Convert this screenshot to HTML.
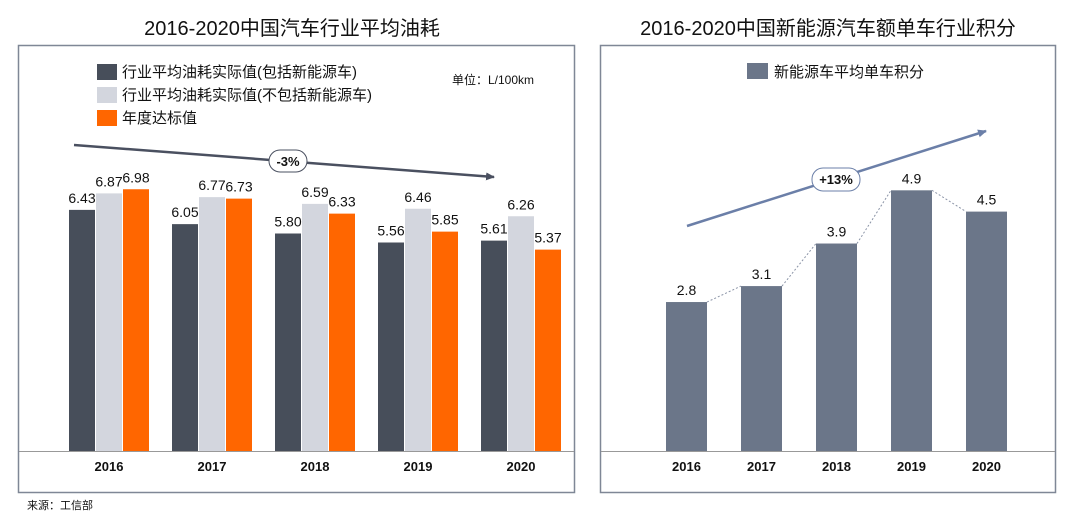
<!DOCTYPE html>
<html><head><meta charset="utf-8"><style>
body{margin:0;background:#fff;}
svg text{font-family:"Liberation Sans","Noto Sans CJK SC",sans-serif;fill:#111;}
</style></head><body>
<svg width="1080" height="525" viewBox="0 0 1080 525" xmlns="http://www.w3.org/2000/svg">
<defs><marker id="ah" markerUnits="userSpaceOnUse" markerWidth="10" markerHeight="10" refX="8" refY="4" orient="auto"><path d="M0,0 L9,4 L0,8 Z" fill="#4a5060"/></marker>
<marker id="ah2" markerUnits="userSpaceOnUse" markerWidth="10" markerHeight="10" refX="8" refY="4" orient="auto"><path d="M0,0 L9,4 L0,8 Z" fill="#6b7fa8"/></marker></defs>
<text x="292" y="35" font-size="20" text-anchor="middle">2016-2020中国汽车行业平均油耗</text>
<text x="828" y="35" font-size="20" text-anchor="middle">2016-2020中国新能源汽车额单车行业积分</text>
<rect x="18.5" y="45.5" width="556" height="447" fill="none" stroke="#7f8796" stroke-width="1.5"/>
<rect x="600.5" y="45.5" width="455" height="447" fill="none" stroke="#7f8796" stroke-width="1.5"/>
<g>
<rect x="97" y="64" width="20" height="16" fill="#474e5a"/>
<text x="122" y="77" font-size="15">行业平均油耗实际值(包括新能源车)</text>
<rect x="97" y="87" width="20" height="16" fill="#d3d6de"/>
<text x="122" y="100" font-size="15">行业平均油耗实际值(不包括新能源车)</text>
<rect x="97" y="110" width="20" height="16" fill="#ff6600"/>
<text x="122" y="123" font-size="15">年度达标值</text>
</g>
<text x="452" y="84" font-size="12">单位：L/100km</text>
<line x1="74" y1="145" x2="494" y2="177" stroke="#4a5060" stroke-width="2.5" marker-end="url(#ah)"/>
<rect x="269" y="150" width="38" height="22" rx="11" fill="#fff" stroke="#4a5060"/>
<text x="288" y="166" font-size="13" font-weight="bold" text-anchor="middle">-3%</text>
<g id="left"></g>
<line x1="19" y1="451.5" x2="574" y2="451.5" stroke="#999"/>
<g>
<rect x="747" y="63" width="21" height="16" fill="#6b7689"/>
<text x="774" y="77" font-size="15">新能源车平均单车积分</text>
</g>
<g id="right"></g>
<line x1="687" y1="226" x2="986" y2="131" stroke="#6b7fa8" stroke-width="2.5" marker-end="url(#ah2)"/>
<rect x="812" y="168" width="48" height="23" rx="11" fill="#fff" stroke="#6b7fa8"/>
<text x="836" y="184" font-size="13" font-weight="bold" text-anchor="middle">+13%</text>
<line x1="601" y1="451.5" x2="1055" y2="451.5" stroke="#999"/>
<text x="27" y="509" font-size="11">来源：工信部</text>
</svg>
<script>
const years=["2016","2017","2018","2019","2020"];
const inclValues=[6.43,6.05,5.80,5.56,5.61];
const exclValues=[6.87,6.77,6.59,6.46,6.26];
const targetValues=[6.98,6.73,6.33,5.85,5.37];
const creditValues=[2.8,3.1,3.9,4.9,4.5];
const NS="http://www.w3.org/2000/svg";
const base=451;
function mk(tag,attrs,parent,txt){const e=document.createElementNS(NS,tag);for(const k in attrs)e.setAttribute(k,attrs[k]);if(txt!=null)e.textContent=txt;parent.appendChild(e);return e;}
const yL=v=>base-v*37.5, xL=i=>69+i*103;
const gL=document.getElementById('left');
const series=[[inclValues,"#474e5a","incl"],[exclValues,"#d3d6de","excl"],[targetValues,"#ff6600","target"]];
years.forEach((yr,i)=>{
  series.forEach((s,j)=>{
    const v=s[0][i],x=xL(i)+j*27;
    const r=mk('rect',{x:x,y:yL(v),width:26,height:base-yL(v),fill:s[1]},gL);
    
    
    const t=mk('text',{x:x+13,y:yL(v)-7,'font-size':14,'text-anchor':'middle'},gL,v.toFixed(2));
    
    
  });
  const t=mk('text',{x:xL(i)+40,y:471,'font-size':13,'font-weight':'bold','text-anchor':'middle'},gL,yr);
  
  
});
const yR=v=>base-v*53.2, xR=i=>666+i*75, bw=41;
const gR=document.getElementById('right');
years.forEach((yr,i)=>{
  const v=creditValues[i];
  const r=mk('rect',{x:xR(i),y:yR(v),width:bw,height:base-yR(v),fill:"#6b7689"},gR);
  
  
  const t=mk('text',{x:xR(i)+bw/2,y:yR(v)-7,'font-size':14,'text-anchor':'middle'},gR,v.toFixed(1));
  
  
  const l=mk('text',{x:xR(i)+bw/2,y:471,'font-size':13,'font-weight':'bold','text-anchor':'middle'},gR,yr);
  
  
  if(i<years.length-1){
    const d=mk('line',{x1:xR(i)+bw,y1:yR(v),x2:xR(i+1),y2:yR(creditValues[i+1]),stroke:"#8a93a6",'stroke-dasharray':'2,2','stroke-width':1},gR);
    
    
  }
});
</script>
</body></html>
